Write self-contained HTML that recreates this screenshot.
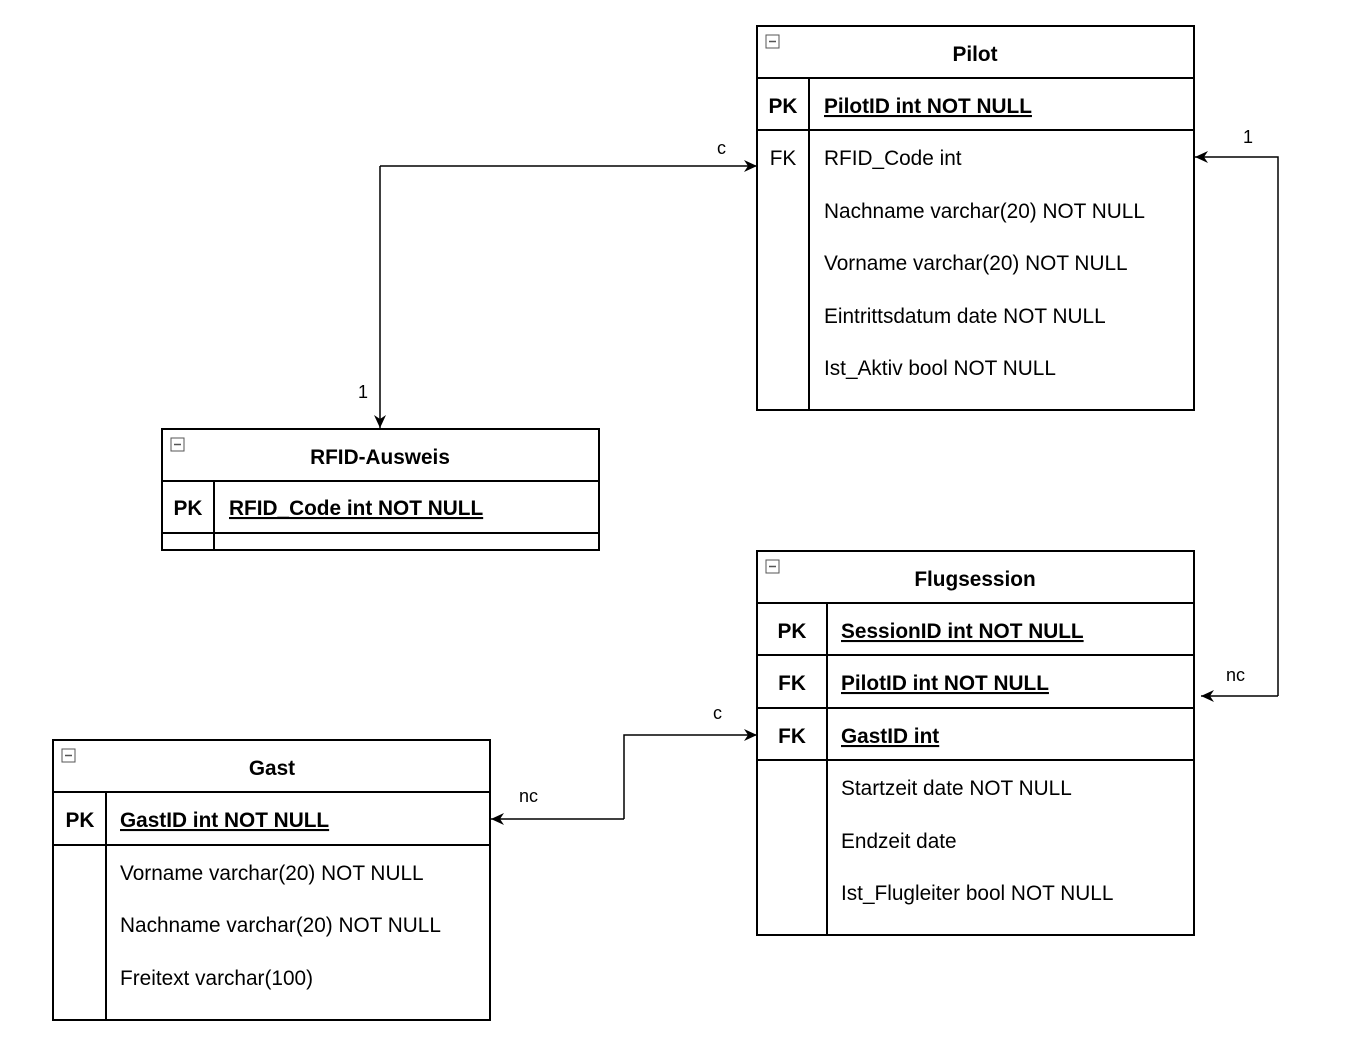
<!DOCTYPE html>
<html><head><meta charset="utf-8"><style>
html,body{margin:0;padding:0;background:#fff}
svg text{font-family:"Liberation Sans",Arial,sans-serif;font-size:20.8px;fill:#000}
.b{font-weight:bold}
</style></head><body>
<svg width="1372" height="1058" xmlns="http://www.w3.org/2000/svg">
<defs>
<marker id="a" markerWidth="14" markerHeight="14" refX="13" refY="7" orient="auto" markerUnits="userSpaceOnUse">
<path d="M0,1 L13,7 L0,13 L4,7 Z" fill="#000"/></marker>
</defs>
<g fill="none" stroke="#000" stroke-width="2">
<rect x="757" y="26" width="437" height="384"/>
<line x1="757" y1="78" x2="1194" y2="78"/>
<line x1="757" y1="130" x2="1194" y2="130"/>
<line x1="809" y1="78" x2="809" y2="410"/>
<rect x="162" y="429" width="437" height="121"/>
<line x1="162" y1="481" x2="599" y2="481"/>
<line x1="162" y1="533" x2="599" y2="533"/>
<line x1="214" y1="481" x2="214" y2="550"/>
<rect x="757" y="551" width="437" height="384"/>
<line x1="757" y1="603" x2="1194" y2="603"/>
<line x1="757" y1="655" x2="1194" y2="655"/>
<line x1="757" y1="708" x2="1194" y2="708"/>
<line x1="757" y1="760" x2="1194" y2="760"/>
<line x1="827" y1="603" x2="827" y2="935"/>
<rect x="53" y="740" width="437" height="280"/>
<line x1="53" y1="792" x2="490" y2="792"/>
<line x1="53" y1="845" x2="490" y2="845"/>
<line x1="106" y1="792" x2="106" y2="1020"/>
</g>
<g fill="none" stroke="#000" stroke-width="1.5">
<path d="M380,166 L757,166" marker-end="url(#a)"/>
<path d="M380,166 L380,428" marker-end="url(#a)"/>
<path d="M1278,696 L1278,157 L1195,157" marker-end="url(#a)"/>
<path d="M1278,696 L1201,696" marker-end="url(#a)"/>
<path d="M624,819 L491,819" marker-end="url(#a)"/>
<path d="M624,819 L624,735 L757,735" marker-end="url(#a)"/>
</g>
<g fill="#fff" stroke="#555" stroke-width="1">
<rect x="766" y="35" width="13" height="13"/><rect x="171" y="438" width="13" height="13"/>
<rect x="766" y="560" width="13" height="13"/><rect x="62" y="749" width="13" height="13"/>
</g>
<g stroke="#555" stroke-width="1.5">
<line x1="769" y1="41.5" x2="776" y2="41.5"/><line x1="174" y1="444.5" x2="181" y2="444.5"/>
<line x1="769" y1="566.5" x2="776" y2="566.5"/><line x1="65" y1="755.5" x2="72" y2="755.5"/>
</g>
<text x="975" y="61" text-anchor="middle" class="b">Pilot</text>
<text x="783" y="113" text-anchor="middle" class="b">PK</text>
<text x="824" y="113" class="b" text-decoration="underline">PilotID int NOT NULL</text>
<text x="783" y="165" text-anchor="middle">FK</text>
<text x="824" y="165">RFID_Code int</text>
<text x="824" y="218">Nachname varchar(20) NOT NULL</text>
<text x="824" y="270">Vorname varchar(20) NOT NULL</text>
<text x="824" y="323">Eintrittsdatum date NOT NULL</text>
<text x="824" y="375">Ist_Aktiv bool NOT NULL</text>
<text x="380" y="464" text-anchor="middle" class="b">RFID-Ausweis</text>
<text x="188" y="515" text-anchor="middle" class="b">PK</text>
<text x="229" y="515" class="b" text-decoration="underline">RFID_Code int NOT NULL</text>
<text x="975" y="586" text-anchor="middle" class="b">Flugsession</text>
<text x="792" y="638" text-anchor="middle" class="b">PK</text>
<text x="841" y="638" class="b" text-decoration="underline">SessionID int NOT NULL</text>
<text x="792" y="690" text-anchor="middle" class="b">FK</text>
<text x="841" y="690" class="b" text-decoration="underline">PilotID int NOT NULL</text>
<text x="792" y="743" text-anchor="middle" class="b">FK</text>
<text x="841" y="743" class="b" text-decoration="underline">GastID int</text>
<text x="841" y="795">Startzeit date NOT NULL</text>
<text x="841" y="848">Endzeit date</text>
<text x="841" y="900">Ist_Flugleiter bool  NOT NULL</text>
<text x="272" y="775" text-anchor="middle" class="b">Gast</text>
<text x="80" y="827" text-anchor="middle" class="b">PK</text>
<text x="120" y="827" class="b" text-decoration="underline">GastID int NOT NULL</text>
<text x="120" y="880">Vorname varchar(20) NOT NULL</text>
<text x="120" y="932">Nachname varchar(20) NOT NULL</text>
<text x="120" y="985">Freitext varchar(100)</text>
<text x="717" y="154" style="font-size:18px">c</text>
<text x="358" y="398" style="font-size:18px">1</text>
<text x="1243" y="143" style="font-size:18px">1</text>
<text x="1226" y="681" style="font-size:18px">nc</text>
<text x="519" y="802" style="font-size:18px">nc</text>
<text x="713" y="719" style="font-size:18px">c</text>
</svg>
</body></html>
